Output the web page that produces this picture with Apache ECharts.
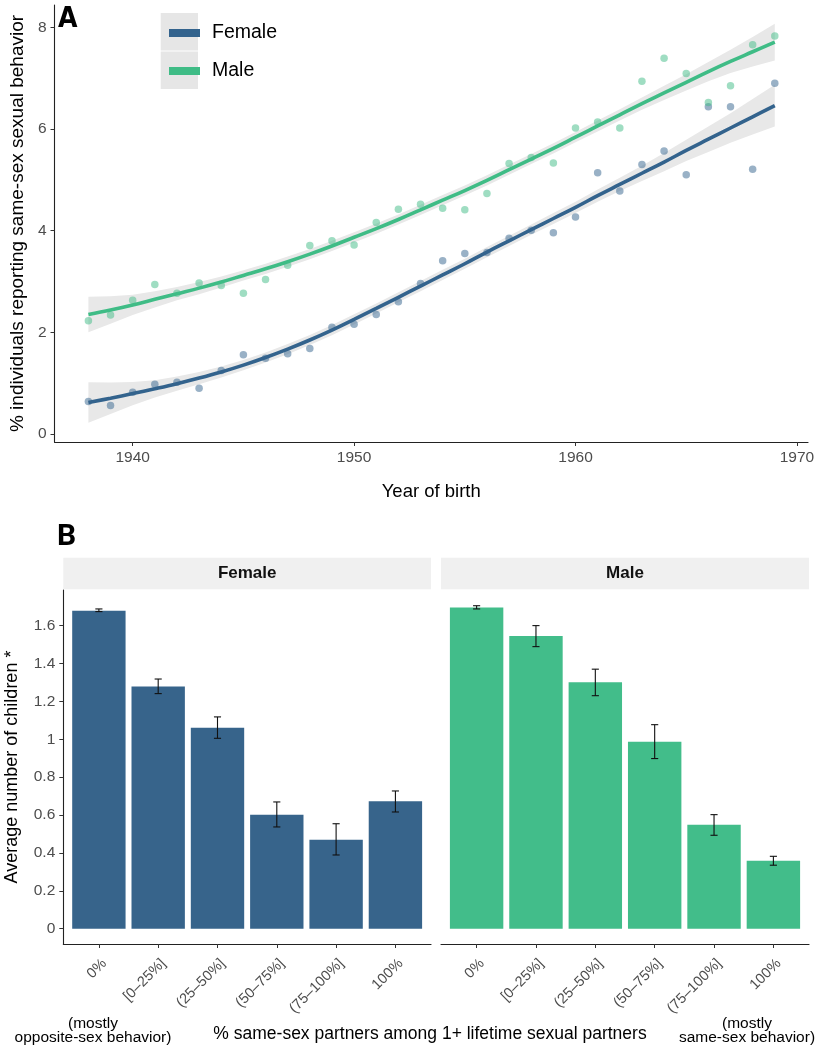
<!DOCTYPE html>
<html><head><meta charset="utf-8">
<script src="https://cdn.jsdelivr.net/npm/echarts@6/dist/echarts.min.js"></script>
<style>html,body{margin:0;padding:0;background:#fff}#c{width:818px;height:1050px}</style>
</head><body><div id="c"></div>
<script>
// ---------- Panel A data ----------
const years = [1938,1939,1940,1941,1942,1943,1944,1945,1946,1947,1948,1949,1950,1951,1952,1953,1954,1955,1956,1957,1958,1959,1960,1961,1962,1963,1964,1965,1966,1967,1968,1969];
const femalePts = [0.64,0.56,0.82,0.98,1.02,0.90,1.25,1.56,1.49,1.58,1.68,2.10,2.16,2.35,2.60,2.96,3.41,3.55,3.57,3.85,4.01,3.96,4.27,5.14,4.78,5.30,5.57,5.10,6.44,6.44,5.21,6.90];
const malePts   = [2.23,2.34,2.63,2.94,2.77,2.97,2.92,2.77,3.04,3.32,3.71,3.80,3.72,4.16,4.42,4.52,4.44,4.41,4.73,5.32,5.44,5.33,6.02,6.14,6.02,6.94,7.39,7.09,6.52,6.85,7.66,7.83];
const femaleFit = [0.62,0.705,0.795,0.89,0.99,1.10,1.22,1.355,1.505,1.67,1.85,2.045,2.255,2.47,2.69,2.91,3.13,3.35,3.58,3.80,4.02,4.24,4.46,4.69,4.91,5.13,5.35,5.58,5.80,6.02,6.24,6.46];
const maleFit   = [2.35,2.44,2.54,2.65,2.76,2.87,2.99,3.12,3.25,3.39,3.54,3.70,3.87,4.04,4.22,4.41,4.60,4.79,4.99,5.20,5.41,5.62,5.84,6.06,6.28,6.50,6.71,6.92,7.13,7.33,7.52,7.71];
const femaleCI  = [0.40,0.31,0.23,0.17,0.14,0.12,0.11,0.10,0.10,0.10,0.10,0.10,0.10,0.10,0.10,0.10,0.10,0.10,0.10,0.10,0.10,0.11,0.11,0.12,0.13,0.15,0.18,0.21,0.25,0.29,0.35,0.41];
const maleCI    = [0.35,0.27,0.20,0.16,0.13,0.12,0.11,0.10,0.10,0.10,0.10,0.10,0.10,0.10,0.10,0.10,0.10,0.10,0.10,0.10,0.10,0.10,0.10,0.11,0.11,0.12,0.14,0.16,0.19,0.23,0.29,0.36];
const xTicksA = [1940,1950,1960,1970];
const yTicksA = [0,2,4,6,8];

// ---------- Panel B data ----------
const partnerCats = ['0%','[0–25%]','(25–50%]','(50–75%]','(75–100%]','100%'];
const femaleChildren = [1.679,1.278,1.061,0.602,0.470,0.673];
const femaleLo = [1.674,1.241,1.005,0.537,0.389,0.616];
const femaleHi = [1.688,1.318,1.118,0.669,0.554,0.727];
const maleChildren = [1.695,1.545,1.301,0.987,0.548,0.359];
const maleLo = [1.688,1.489,1.230,0.898,0.493,0.335];
const maleHi = [1.705,1.600,1.370,1.077,0.602,0.382];
const yTicksB = [0,0.2,0.4,0.6,0.8,1,1.2,1.4,1.6];

const FC = '#33638d', MC = '#3fbc86';
const FONT = 'Liberation Sans, Arial, sans-serif';
const TICKC = '#4d4d4d';

const chart = echarts.init(document.getElementById('c'), null, {renderer:'canvas'});

function ribbon(fit, ci) {
  return {
    type:'custom', xAxisIndex:0, yAxisIndex:0, silent:true, z:1, clip:true,
    data:[[years[0], fit[0]]],
    renderItem: function(params, api){
      const pts = [];
      for (let i=0;i<years.length;i++) pts.push(api.coord([years[i], fit[i]+ci[i]]));
      for (let i=years.length-1;i>=0;i--) pts.push(api.coord([years[i], fit[i]-ci[i]]));
      return {type:'polygon', shape:{points:pts}, style:{fill:'#e8e8e8'}};
    }
  };
}
function errBars(xi, yi, lo, hi) {
  return {
    type:'custom', xAxisIndex:xi, yAxisIndex:yi, silent:true, z:5,
    data: lo.map((v,i)=>[i, v, hi[i]]),
    renderItem: function(params, api){
      const a = api.coord([api.value(0), api.value(1)]);
      const b = api.coord([api.value(0), api.value(2)]);
      const hw = api.size([0.12, 0])[0]/2;
      const st = {stroke:'#111', lineWidth:1.1};
      return {type:'group', children:[
        {type:'line', shape:{x1:a[0],y1:a[1],x2:b[0],y2:b[1]}, style:st},
        {type:'line', shape:{x1:a[0]-hw,y1:a[1],x2:a[0]+hw,y2:a[1]}, style:st},
        {type:'line', shape:{x1:b[0]-hw,y1:b[1],x2:b[0]+hw,y2:b[1]}, style:st}
      ]};
    }
  };
}
const axLine = {show:true, onZero:false, lineStyle:{color:'#222', width:1.1}};
const axTick = {show:true, length:4, lineStyle:{color:'#333', width:1}};

function catAxisB(gi){
  return {
    type:'value', gridIndex:gi, min:-0.6, max:5.6,
    axisLine:axLine,
    axisTick:Object.assign({customValues:[0,1,2,3,4,5]}, axTick),
    axisLabel:{customValues:[0,1,2,3,4,5], formatter:(v)=>partnerCats[Math.round(v)], rotate:45,
      align:'right', verticalAlign:'top',
      fontSize:14.5, color:TICKC, fontFamily:FONT, margin:12},
    splitLine:{show:false}
  };
}

const option = {
  animation:false,
  backgroundColor:'#fff',
  textStyle:{fontFamily:FONT},
  grid:[
    {left:46, top:5, width:762, height:437},
    {left:63.3, top:590, width:367.7, height:354},
    {left:441, top:590, width:368, height:354}
  ],
  xAxis:[
    {type:'value', gridIndex:0, min:1936.47, max:1970.5,
      axisLine:axLine, axisTick:Object.assign({customValues:xTicksA}, axTick),
      axisLabel:{customValues:xTicksA, formatter:(v)=>String(v), fontSize:15.5, color:TICKC, fontFamily:FONT, margin:8},
      splitLine:{show:false},
      name:'Year of birth', nameLocation:'middle', nameGap:40,
      nameTextStyle:{fontSize:18.5, color:'#000', fontFamily:FONT}},
    catAxisB(1), catAxisB(2)
  ],
  yAxis:[
    {type:'value', gridIndex:0, min:-0.157, max:8.44,
      axisLine:axLine, axisTick:Object.assign({customValues:yTicksA}, axTick),
      axisLabel:{customValues:yTicksA, formatter:(v)=>String(v), fontSize:15.5, color:TICKC, fontFamily:FONT, margin:8},
      splitLine:{show:false},
      name:'% individuals reporting same-sex sexual behavior', nameLocation:'middle', nameGap:22,
      nameTextStyle:{fontSize:19, color:'#000', fontFamily:FONT}},
    {type:'value', gridIndex:1, min:-0.081, max:1.788,
      axisLine:axLine, axisTick:Object.assign({customValues:yTicksB}, axTick),
      axisLabel:{customValues:yTicksB, formatter:(v)=>String(v), fontSize:15.5, color:TICKC, fontFamily:FONT, margin:8},
      splitLine:{show:false},
      name:'Average number of children *', nameLocation:'middle', nameGap:42,
      nameTextStyle:{fontSize:18, color:'#000', fontFamily:FONT}},
    {type:'value', gridIndex:2, min:-0.081, max:1.788,
      axisLine:{show:false, onZero:false}, axisTick:{show:false}, axisLabel:{show:false}, splitLine:{show:false}}
  ],
  legend:{
    orient:'vertical', left:164, top:17, itemWidth:31, itemHeight:8, itemGap:16,
    textStyle:{fontSize:19.5, color:'#000', fontFamily:FONT, lineHeight:22, padding:[0,0,0,7]},
    data:[
      {name:'Female', icon:'rect', itemStyle:{color:FC}},
      {name:'Male', icon:'rect', itemStyle:{color:MC}}
    ],
    selectedMode:false
  },
  graphic:[
    {type:'rect', left:160.7, top:13, shape:{width:37.3, height:37.5}, style:{fill:'#e6e6e6'}, z:-1},
    {type:'rect', left:160.7, top:51.5, shape:{width:37.3, height:37.5}, style:{fill:'#e6e6e6'}, z:-1},
    {type:'text', left:58, top:6, style:{text:'A', font:'bold 28px "DejaVu Sans Condensed", "DejaVu Sans", sans-serif', fill:'#000'}},
    {type:'text', left:57, top:522, style:{text:'B', font:'bold 30px Roboto, "Liberation Sans", sans-serif', fill:'#000'}},
    {type:'rect', left:63.3, top:557.7, shape:{width:367.7, height:31.6}, style:{fill:'#f0f0f0'}},
    {type:'rect', left:441, top:557.7, shape:{width:368, height:31.6}, style:{fill:'#f0f0f0'}},
    {type:'text', x:247.2, y:573.5, style:{text:'Female', font:'bold 17px '+FONT, fill:'#111', align:'center', verticalAlign:'middle'}},
    {type:'text', x:625, y:573.5, style:{text:'Male', font:'bold 17px '+FONT, fill:'#111', align:'center', verticalAlign:'middle'}},
    {type:'text', x:430, y:1034, style:{text:'% same-sex partners among 1+ lifetime sexual partners', font:'17.5px '+FONT, fill:'#000', align:'center', verticalAlign:'middle'}},
    {type:'text', x:93, y:1031, style:{text:'(mostly\nopposite-sex behavior)', font:'15.5px '+FONT, lineHeight:14, fill:'#000', align:'center', verticalAlign:'middle'}},
    {type:'text', x:747, y:1031, style:{text:'(mostly\nsame-sex behavior)', font:'15.5px '+FONT, lineHeight:14, fill:'#000', align:'center', verticalAlign:'middle'}}
  ],
  series:[
    ribbon(femaleFit, femaleCI),
    ribbon(maleFit, maleCI),
    {type:'scatter', name:'Female points', xAxisIndex:0, yAxisIndex:0, symbolSize:7.5, z:2,
      itemStyle:{color:FC, opacity:0.5}, data:years.map((y,i)=>[y, femalePts[i]])},
    {type:'scatter', name:'Male points', xAxisIndex:0, yAxisIndex:0, symbolSize:7.5, z:2,
      itemStyle:{color:MC, opacity:0.5}, data:years.map((y,i)=>[y, malePts[i]])},
    {type:'line', name:'Female', xAxisIndex:0, yAxisIndex:0, smooth:0.4, showSymbol:false, z:3,
      lineStyle:{color:FC, width:3.6}, itemStyle:{color:FC}, data:years.map((y,i)=>[y, femaleFit[i]])},
    {type:'line', name:'Male', xAxisIndex:0, yAxisIndex:0, smooth:0.4, showSymbol:false, z:3,
      lineStyle:{color:MC, width:3.6}, itemStyle:{color:MC}, data:years.map((y,i)=>[y, maleFit[i]])},
    {type:'bar', name:'Female bars', xAxisIndex:1, yAxisIndex:1, barWidth:'90%',
      itemStyle:{color:'#37648b'}, data:femaleChildren.map((v,i)=>[i, v])},
    {type:'bar', name:'Male bars', xAxisIndex:2, yAxisIndex:2, barWidth:'90%',
      itemStyle:{color:'#42bd8a'}, data:maleChildren.map((v,i)=>[i, v])},
    errBars(1, 1, femaleLo, femaleHi),
    errBars(2, 2, maleLo, maleHi)
  ]
};
chart.setOption(option);
</script>
</body></html>
